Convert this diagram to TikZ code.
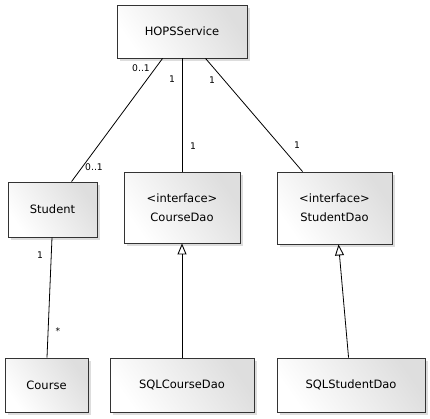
\documentclass[tikz,border=0pt]{standalone}
\usepackage{fontspec}
\setmainfont{DejaVu Sans}
\usetikzlibrary{calc,shadows,arrows.meta}
\begin{document}
\begin{tikzpicture}[x=1pt,y=-1pt,
  umlbox/.style={draw=black!80, line width=0.9pt, left color=white, right color=black!13, shading angle=125,
    drop shadow={shadow xshift=2.5pt, shadow yshift=-2.5pt, opacity=0.22, fill=black!60},
    font=\fontsize{11.5}{19}\selectfont, align=center, inner sep=0pt},
  conn/.style={draw=black, line width=0.8pt},
  realize/.style={conn, -{Triangle[open, length=11pt, width=9pt, line width=0.9pt]}},
  mult/.style={font=\fontsize{9.2}{10}\selectfont, inner sep=0pt}]
\useasboundingbox (0,0) rectangle (430,418);
\node[umlbox, minimum width=130pt, minimum height=53pt] (hops) at (182,31.5) {HOPSService};
\node[umlbox, minimum width=89pt, minimum height=55pt] (student) at (52.5,209.5) {Student};
\node[umlbox, minimum width=116pt, minimum height=71pt] (coursedao) at (182,207.5) {<interface>\\CourseDao};
\node[umlbox, minimum width=115pt, minimum height=72pt] (studentdao) at (334.5,208) {<interface>\\StudentDao};
\node[umlbox, minimum width=83pt, minimum height=54pt] (course) at (46.5,385) {Course};
\node[umlbox, minimum width=144pt, minimum height=54pt] (sqlcourse) at (182,385) {SQLCourseDao};
\node[umlbox, minimum width=148pt, minimum height=54pt] (sqlstudent) at (351,385) {SQLStudentDao};

\draw[conn] ($(hops.south west)+(46,0)$) -- ($(student.north west)+(64,0)$);
\draw[conn] (hops.south) -- (coursedao.north);
\draw[conn] ($(hops.south west)+(89,0)$) -- ($(studentdao.north west)+(26,0)$);
\draw[conn] ($(student.south)+(-0.5,0)$) -- ($(course.north)+(0.5,0)$);
\draw[realize] (sqlcourse.north) -- (coursedao.south);
\draw[realize] ($(sqlstudent.north west)+(72,0)$) -- ($(studentdao.south west)+(62,0)$);

\node[mult] (m1) at (141,68) {0..1};
\node[mult] (m2) at (94,167) {0..1};
\node[mult] (m3) at (172,79) {1};
\node[mult] (m4) at (193,146) {1};
\node[mult] (m5) at (212,80) {1};
\node[mult] (m6) at (297,145) {1};
\node[mult] (m7) at (40,255) {1};
\node[mult] (m8) at (58,331) {*};
\end{tikzpicture}
\end{document}
